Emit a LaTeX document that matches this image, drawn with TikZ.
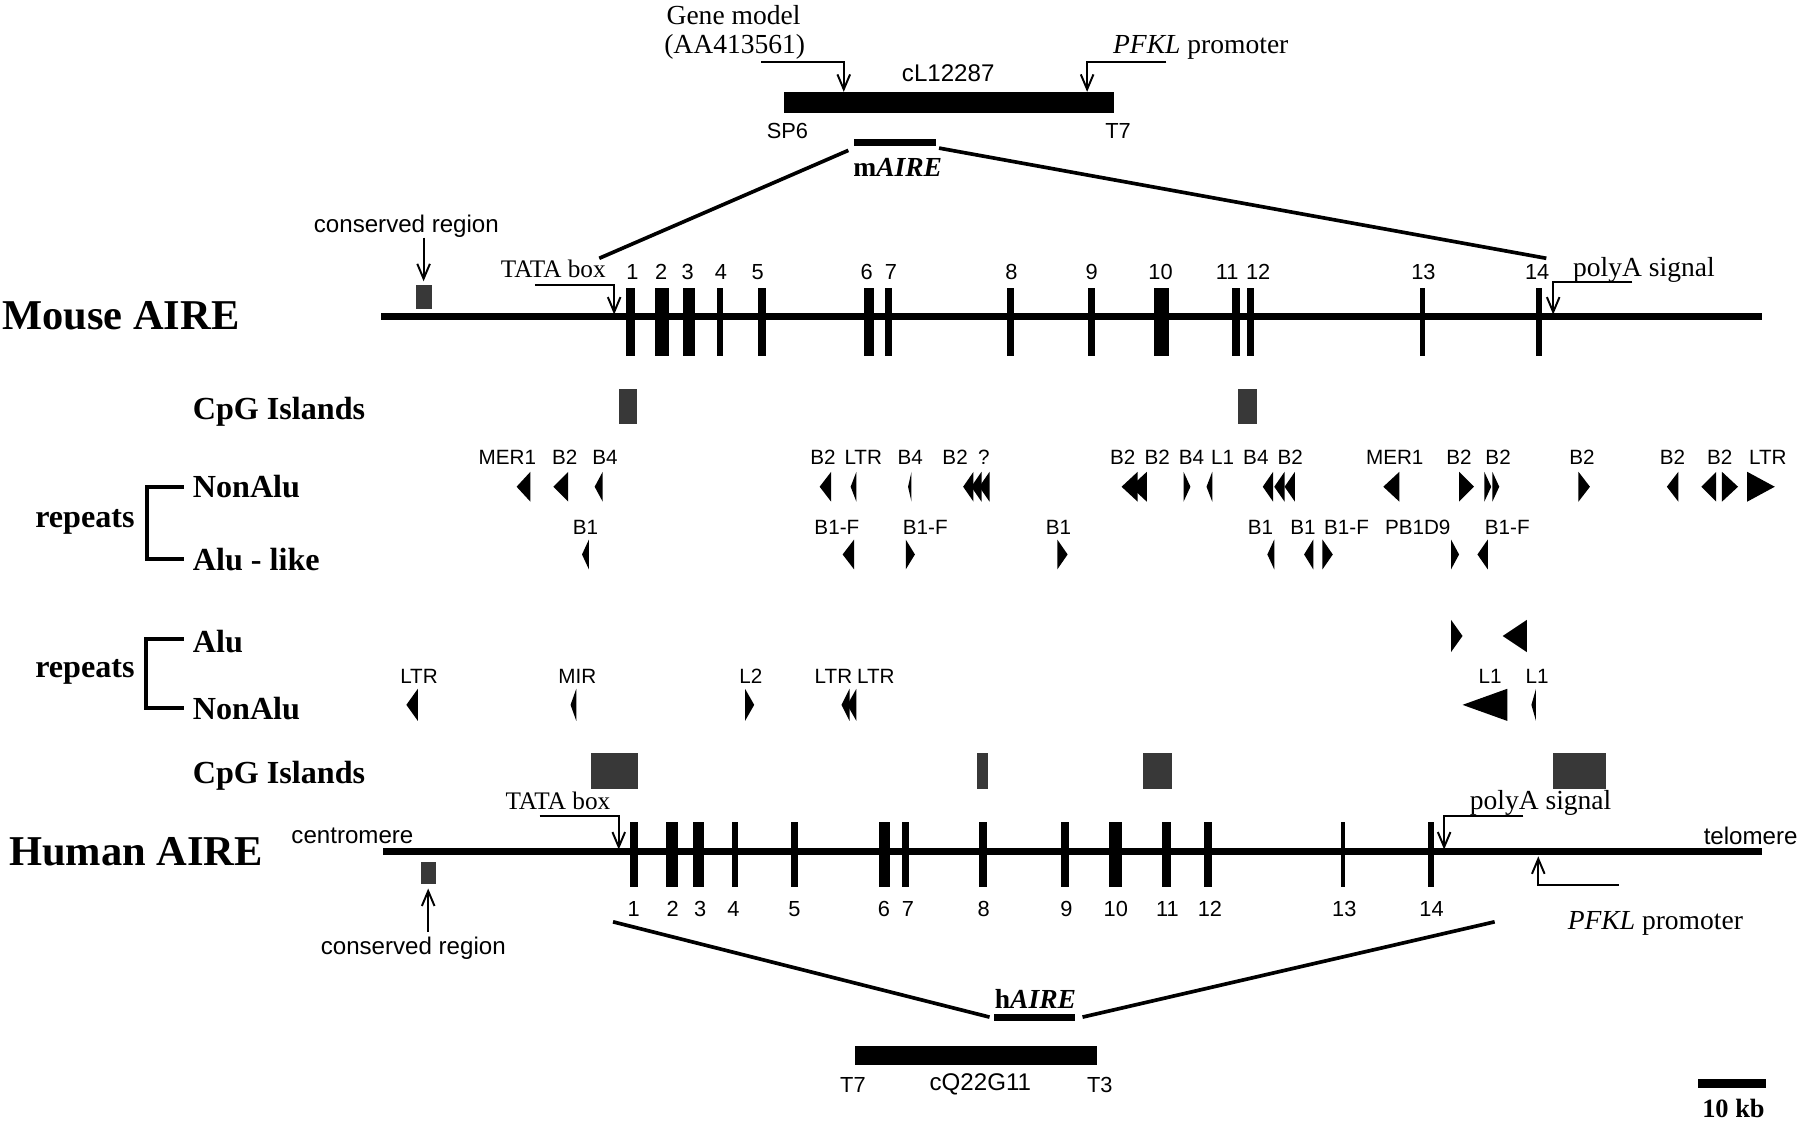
\documentclass[tikz,border=0pt]{standalone}
\usepackage{fontspec}
\setmainfont{Liberation Serif}
\newfontfamily\futf{Liberation Sans}
\usetikzlibrary{arrows.meta}
\newcommand\reptri[3]{\fill (#2,#3-13) -- (#1,#3) -- (#2,#3+13) -- cycle;}
\newcommand\reptrih[3]{\fill (#2,#3-14) -- (#1,#3) -- (#2,#3+14) -- cycle;}
\begin{document}
\begin{tikzpicture}[x=1pt,y=-1pt,
  every node/.style={inner sep=0pt, outer sep=0pt},
  rl/.style={font=\futf\fontsize{18}{18}\selectfont},
  num/.style={font=\futf\fontsize{19}{19}\selectfont},
  sl/.style={font=\futf\fontsize{21}{21}\selectfont},
  ser/.style={font=\fontsize{24}{24}\selectfont},
  tata/.style={font=\fontsize{22}{22}\selectfont},
  big/.style={font=\bfseries\fontsize{37}{37}\selectfont, anchor=west},
  hdr/.style={font=\bfseries\fontsize{28}{28}\selectfont},
  ptr/.style={line width=1.7pt, -{Straight Barb[length=13pt,width=11pt,line width=1.7pt]}},
  chrom/.style={line width=6pt},
  zline/.style={line width=3.2pt},
  brk/.style={line width=3.5pt},
  cpg/.style={fill=black!78},
]
\useasboundingbox (0,0) rectangle (1568,977);
\fill[white] (0,0) rectangle (1568,977);

% ---------------- top clone ----------------
\node[ser] (gm1) at (639,13) {Gene model};
\node[ser] (gm2) at (640,41) {(AA413561)};
\node[ser] (pfk) at (1046,41) {\textit{PFKL} promoter};
\node[sl] (cl) at (826,64) {cL12287};
\fill (683,80) rectangle (970,98);
\coordinate (barL) at (735,80);
\coordinate (barR) at (947,80);
\coordinate (gmS) at (663,54);
\coordinate (pfS) at (1016,54);
\draw[ptr] (gmS) -| (barL);
\draw[ptr] (pfS) -| (barR);
\node[num] (sp6) at (686,114) {SP6};
\node[num] (t7a) at (974,114) {T7};
\fill (744,121) rectangle (815,127);
\node[font=\bfseries\fontsize{24}{24}\selectfont] (maire) at (782,146) {m\textit{AIRE}};
\coordinate (mL) at (739,131);
\coordinate (mR) at (818,129);
\coordinate (mxL) at (522,225);
\coordinate (mxR) at (1347,225);
\draw[zline] (mL) -- (mxL);
\draw[zline] (mR) -- (mxR);

% ---------------- mouse ----------------
\node[big] (mouse) at (2,275) {Mouse AIRE};
\coordinate (mcs) at (332,276);
\coordinate (mce) at (1535,276);
\draw[chrom] (mcs) -- (mce);
\node[sl] (mcons) at (354,197) {conserved region};
\fill[cpg] (362,248) rectangle (376,269);
\coordinate (mconsA) at (369,207);
\coordinate (mconsB) at (369,245);
\draw[ptr] (mconsA) -- (mconsB);
\node[tata] (mtata) at (482,234) {TATA box};
\coordinate (mtS) at (466,248);
\coordinate (mtT) at (535,274);
\draw[ptr] (mtS) -| (mtT);
\node[ser] (mpoly) at (1432,235) {polyA signal};
\coordinate (mpS) at (1422,246);
\coordinate (mpT) at (1353,274);
\draw[ptr] (mpS) -| (mpT);
\foreach \x/\w in {549/8,577/12,600/10,627.5/5,663.5/7,757/8,774/6,880/6,951/6,1011.5/13,1076.5/7,1089/6,1239/4,1340.5/5}
  \fill (\x-\w/2,251) rectangle (\x+\w/2,310);
\foreach \x/\t in {551/1,576/2,599/3,628/4,660/5,755/6,776/7,881/8,951/9,1011/10,1069/11,1096/12,1240/13,1339/14}
  \node[num] (mex\t) at (\x,237) {\t};

% mouse CpG
\node[hdr, anchor=west] (mcpg) at (168,359) {CpG Islands};
\fill[cpg] (539,339) rectangle (555,369);
\fill[cpg] (1078,339) rectangle (1095,369);

% mouse repeats
\node[hdr] (mrep) at (74,455) {repeats};
\node[hdr, anchor=west] (mnon) at (168,424) {NonAlu};
\node[hdr, anchor=west] (malu) at (168,487) {Alu - like};
\coordinate (mb1) at (160,424);
\coordinate (mb2) at (160,487);
\draw[brk] (mb1) -- (128,424) -- (128,487) -- (mb2);
\foreach \x/\t [count=\i] in {442/MER1,492/B2,527/B4,717/B2,752/LTR,793/B4,832/B2,857/?,978/B2,1008/B2,1038/B4,1065/L1,1094/B4,1124/B2,1215/MER1,1271/B2,1305/B2,1378/B2,1457/B2,1498/B2,1540/LTR}
  \node[rl] (mnl\i) at (\x,398) {\t};
\reptri{450}{462}{424}
\reptri{482}{495}{424}
\reptri{518}{525}{424}
\reptri{714}{724}{424}
\reptri{741}{746}{424}
\reptri{791}{794}{424}
\reptri{839}{848}{424}
\reptri{846}{855}{424}
\reptri{853}{862}{424}
\reptri{977}{991}{424}
\reptri{985}{999}{424}
\reptri{1037}{1031}{424}
\reptri{1051}{1056}{424}
\reptri{1100}{1109}{424}
\reptri{1110}{1119}{424}
\reptri{1119}{1128}{424}
\reptri{1205}{1219}{424}
\reptri{1284}{1271}{424}
\reptri{1299}{1293}{424}
\reptri{1306}{1300}{424}
\reptri{1385}{1375}{424}
\reptri{1452}{1462}{424}
\reptri{1482}{1495}{424}
\reptri{1514}{1500}{424}
\reptri{1546}{1522}{424}
\foreach \x/\t [count=\i] in {510/B1,729/B1-F,806/B1-F,922/B1,1098/B1,1135/B1,1173/B1-F,1235/PB1D9,1313/B1-F}
  \node[rl] (mal\i) at (\x,459) {\t};
\reptri{507}{513}{483}
\reptri{734}{744}{483}
\reptri{797}{789}{483}
\reptri{930}{921}{483}
\reptri{1104}{1110}{483}
\reptri{1136}{1144}{483}
\reptri{1161}{1152}{483}
\reptri{1271}{1264}{483}
\reptri{1287}{1296}{483}

% ---------------- human repeats ----------------
\node[hdr] (hrep) at (74,585) {repeats};
\node[hdr, anchor=west] (halu) at (168,559) {Alu};
\node[hdr, anchor=west] (hnon) at (168,617) {NonAlu};
\coordinate (hb1) at (160,557);
\coordinate (hb2) at (160,617);
\draw[brk] (hb1) -- (127,557) -- (127,617) -- (hb2);
\reptrih{1274}{1264}{554}
\reptrih{1309}{1330}{554}
\foreach \x/\t [count=\i] in {365/LTR,503/MIR,654/L2,726/LTR,763/LTR,1298/L1,1339/L1}
  \node[rl] (hnl\i) at (\x,589) {\t};
\reptrih{354}{364}{614}
\reptrih{497}{502}{614}
\reptrih{657}{649}{614}
\reptrih{733}{740}{614}
\reptrih{738}{746}{614}
\reptrih{1274}{1313}{614}
\reptrih{1334}{1338}{614}

% human CpG
\node[hdr, anchor=west] (hcpg) at (168,676) {CpG Islands};
\fill[cpg] (515,656) rectangle (556,687);
\fill[cpg] (851,656) rectangle (861,687);
\fill[cpg] (996,656) rectangle (1021,687);
\fill[cpg] (1353,656) rectangle (1399,687);

% ---------------- human ----------------
\node[big] (human) at (8,742) {Human AIRE};
\coordinate (hcs) at (334,742);
\coordinate (hce) at (1535,742);
\draw[chrom] (hcs) -- (hce);
\node[sl] (cen) at (307,728) {centromere};
\node[sl] (tel) at (1525,728) {telomere};
\fill[cpg] (367,751) rectangle (380,770);
\coordinate (hconsA) at (373,812);
\coordinate (hconsB) at (373,774);
\draw[ptr] (hconsA) -- (hconsB);
\node[sl] (hcons) at (360,826) {conserved region};
\node[tata] (htata) at (486,698) {TATA box};
\coordinate (htS) at (470,711);
\coordinate (htT) at (539,740);
\draw[ptr] (htS) -| (htT);
\node[ser] (hpoly) at (1342,699) {polyA signal};
\coordinate (hpS) at (1327,711);
\coordinate (hpT) at (1258,740);
\draw[ptr] (hpS) -| (hpT);
\coordinate (hpfS) at (1410,771);
\coordinate (hpfT) at (1340,746);
\draw[ptr] (hpfS) -| (hpfT);
\node[ser] (hpfk) at (1442,804) {\textit{PFKL} promoter};
\foreach \x/\w in {552.5/7,585.5/11,608.5/9,640.5/5,692/6,770.5/9,789/6,856.5/7,927.5/7,971.5/11,1016/8,1052.5/7,1170/4,1246.5/5}
  \fill (\x-\w/2,716) rectangle (\x+\w/2,773);
\foreach \x/\t in {552/1,586/2,610/3,639/4,692/5,770/6,791/7,857/8,929/9,972/10,1017/11,1054/12,1171/13,1247/14}
  \node[num] (hex\t) at (\x,792) {\t};

% hAIRE expansion
\fill (866,883) rectangle (936,889);
\node[font=\bfseries\fontsize{24}{24}\selectfont] (haire) at (902,870) {h\textit{AIRE}};
\coordinate (hxL) at (534,803);
\coordinate (hxR) at (1302,803);
\coordinate (hL) at (862,886);
\coordinate (hR) at (943,886);
\draw[zline] (hxL) -- (hL);
\draw[zline] (hxR) -- (hR);
\fill (745,911) rectangle (956,928);
\node[num] (t7b) at (743,945) {T7};
\node[sl] (cq) at (854,945) {cQ22G11};
\node[num] (t3) at (958,945) {T3};

% scale bar
\fill (1479,940) rectangle (1538,948);
\node[font=\bfseries\fontsize{23}{23}\selectfont] (kb) at (1510,966) {10 kb};
\end{tikzpicture}
\end{document}
